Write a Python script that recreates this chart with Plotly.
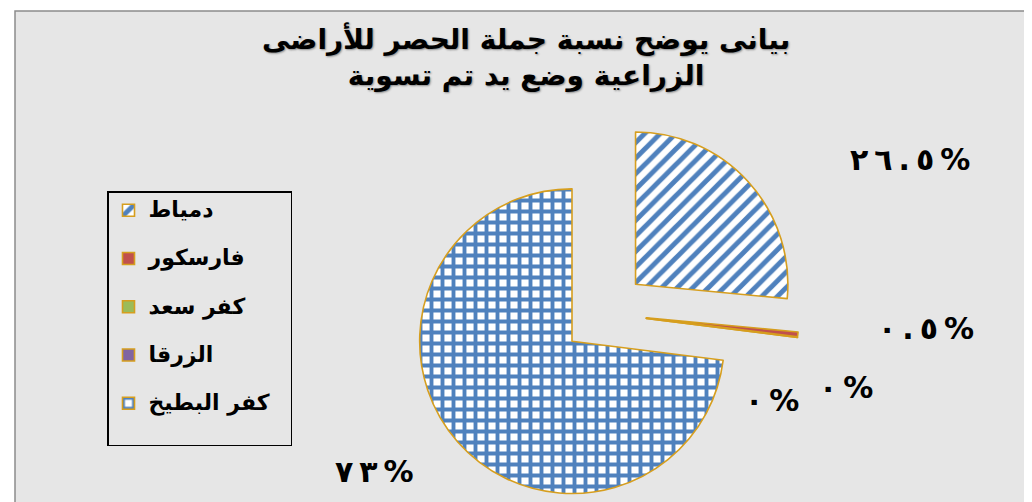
import plotly.graph_objects as go

# ---- data ----
categories = ["دمياط", "فارسكور", "كفر سعد", "الزرقا", "كفر البطيخ"]
values = [26.5, 0.5, 0, 0, 73]
title_lines = ["بيانى يوضح نسبة جملة الحصر للأراضى", "الزراعية وضع يد تم تسوية"]

# ---- styling ----
fills = ["#4F81BD", "#C0504D", "#9BBB59", "#8064A2", "#4F81BD"]
shapes = ["/", "", "", "", "+"]
edge = "#D69E1E"
FONT = "DejaVu Sans"

AR_DIGITS = str.maketrans("0123456789", "٠١٢٣٤٥٦٧٨٩")


def ar_pct(v):
    s = ("%g" % v).translate(AR_DIGITS) + "%"
    # force left-to-right visual order, with thin gaps between glyphs
    return "\u202D" + "\u2009".join(s) + "\u202C"


# label anchor positions (pixels in 1032x502 canvas)
label_pos = [(902, 152), (918, 320), (838, 379), (764, 392), (366, 463)]

W, H = 1032, 502
cx, cy = 596, 305
half = H - cy - 2

legend_labels = ["<span style='font-size:22px'>%s\u00A0\u00A0</span><br> " % c
                 for c in categories]

fig = go.Figure()
fig.add_trace(go.Pie(
    labels=legend_labels,
    values=values,
    sort=False,
    direction="clockwise",
    rotation=0,
    pull=[0.28] * len(values),
    textinfo="none",
    hoverinfo="label+percent",
    marker=dict(
        colors=fills,
        line=dict(color=edge, width=1.6),
        pattern=dict(
            shape=shapes,
            fgcolor=fills,
            bgcolor=["white", fills[1], fills[2], fills[3], "white"],
            fgopacity=1,
            size=[11, 8, 8, 8, 11],
            solidity=[0.45, 0.3, 0.3, 0.3, 0.58],
            fillmode="replace",
        ),
    ),
    domain=dict(x=[(cx - 215) / W, (cx + 215) / W],
                y=[(H - cy - half) / H, (H - cy + half) / H]),
    showlegend=True,
))

annotations = [dict(
    x=518 / W, y=1 - 49 / H, xref="paper", yref="paper",
    text="<br>".join(title_lines), showarrow=False,
    font=dict(family=FONT, size=28, color="black", weight="bold",
              shadow="1px 1px 2px #8a8a8a"),
    xanchor="center", yanchor="middle", align="center",
)]
for v, (px, py) in zip(values, label_pos):
    annotations.append(dict(
        x=px / W, y=1 - py / H, xref="paper", yref="paper",
        text=ar_pct(v), showarrow=False,
        font=dict(family=FONT, size=30, color="black", weight="bold"),
        xanchor="center", yanchor="middle",
    ))

fig.update_layout(
    width=W, height=H,
    margin=dict(l=0, r=0, t=0, b=0),
    paper_bgcolor="white",
    plot_bgcolor="white",
    legend=dict(
        x=99 / W, y=1 - 183 / H, xanchor="left", yanchor="top",
        bgcolor="rgba(0,0,0,0)", bordercolor="black", borderwidth=1.5,
        font=dict(family=FONT, size=17.4, color="black", weight="bold"),
        valign="top", traceorder="normal",
    ),
    shapes=[dict(
        type="rect", xref="paper", yref="paper",
        x0=7 / W, x1=1029 / W, y0=1 - 499 / H, y1=1 - 3 / H,
        fillcolor="#E6E6E6", line=dict(color="#8C8C8C", width=1.5),
        layer="below",
    )],
    annotations=annotations,
)

fig.write_html("out.html")
